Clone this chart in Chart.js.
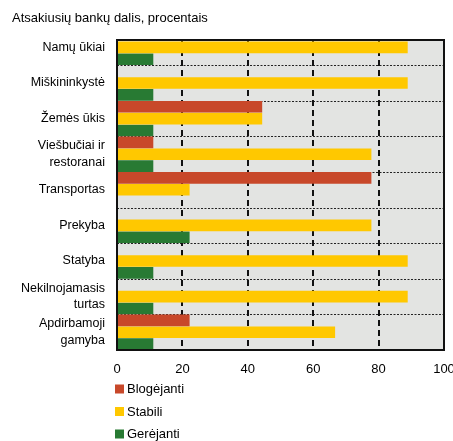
<!DOCTYPE html>
<html>
<head>
<meta charset="utf-8">
<script src="https://cdn.jsdelivr.net/npm/chart.js@4"></script>
<style>
  html, body { margin: 0; padding: 0; background: #fff; overflow: hidden; }
  #wrap { position: relative; width: 453px; height: 441px; overflow: hidden; }
  canvas { display: block; }
</style>
</head>
<body>
<div id="wrap">
  <canvas id="chart" width="480" height="441"></canvas>
</div>
<script>
// data (share of 9 responding banks, %)
const categories = [
  'Namų ūkiai',
  'Miškininkystė',
  'Žemės ūkis',
  ['Viešbučiai ir', 'restoranai'],
  'Transportas',
  'Prekyba',
  'Statyba',
  ['Nekilnojamasis', 'turtas'],
  ['Apdirbamoji', 'gamyba']
];
const blogejanti = [0, 0, 44.4, 11.1, 77.8, 0, 0, 0, 22.2];
const stabili = [88.9, 88.9, 44.4, 77.8, 22.2, 77.8, 88.9, 88.9, 66.7];
const gerejanti = [11.1, 11.1, 11.1, 11.1, 0, 22.2, 11.1, 11.1, 11.1];
const xTicks = [0, 20, 40, 60, 80, 100];
const seriesNames = ['Blogėjanti', 'Stabili', 'Gerėjanti'];
const colors = ['#C8482A', '#FFC800', '#287A33'];
const title = 'Atsakiusių bankų dalis, procentais';

const FONT = 'Liberation Sans, Arial, sans-serif';
const BOX_TOP = 40; // grey frame starts a bit below the first category band

// background, dashed grid and frame
const framePlugin = {
  id: 'frame',
  beforeDatasetsDraw(chart) {
    const { ctx, chartArea: a, scales } = chart;
    const x = scales.x, y = scales.y;
    ctx.save();
    ctx.fillStyle = '#E3E4E2';
    ctx.fillRect(a.left, BOX_TOP, a.right - a.left, a.bottom - BOX_TOP);

    // dotted lines between categories
    const step = (a.bottom - a.top) / categories.length;
    ctx.strokeStyle = '#222';
    ctx.lineWidth = 1;
    ctx.setLineDash([2, 1.5]);
    for (let i = 1; i < categories.length; i++) {
      const py = Math.round(y.getPixelForValue(i) - step / 2) + 0.5;
      ctx.beginPath();
      ctx.moveTo(a.left, py);
      ctx.lineTo(a.right, py);
      ctx.stroke();
    }

    // dashed vertical lines
    ctx.strokeStyle = '#111';
    ctx.lineWidth = 2;
    ctx.setLineDash([6, 4]);
    xTicks.slice(1, -1).forEach(v => {
      const px = Math.round(x.getPixelForValue(v));
      ctx.beginPath();
      ctx.moveTo(px, BOX_TOP);
      ctx.lineTo(px, a.bottom);
      ctx.stroke();
    });
    ctx.restore();
  },
  afterDatasetsDraw(chart) {
    const { ctx, chartArea: a } = chart;
    ctx.save();
    ctx.strokeStyle = '#111';
    ctx.lineWidth = 2;
    ctx.strokeRect(a.left, BOX_TOP, a.right - a.left, a.bottom - BOX_TOP);
    ctx.restore();
  },
  afterDraw(chart) {
    const { ctx } = chart;
    ctx.save();
    ctx.fillStyle = '#000';
    ctx.font = '13px ' + FONT;
    ctx.textBaseline = 'alphabetic';
    ctx.fillText(title, 12, 21.5);

    // legend stacked under the axis
    const legendY = [389, 411.5, 434];
    chart.data.datasets.forEach((ds, i) => {
      ctx.fillStyle = ds.backgroundColor;
      ctx.fillRect(115, legendY[i] - 4.5, 9, 9);
      ctx.fillStyle = '#000';
      ctx.textBaseline = 'middle';
      ctx.fillText(ds.label, 127, legendY[i] + 0.5);
    });
    ctx.restore();
  }
};

new Chart(document.getElementById('chart'), {
  type: 'bar',
  data: {
    labels: categories,
    datasets: [
      { label: seriesNames[0], data: blogejanti, backgroundColor: colors[0] },
      { label: seriesNames[1], data: stabili, backgroundColor: colors[1] },
      { label: seriesNames[2], data: gerejanti, backgroundColor: colors[2] }
    ]
  },
  options: {
    indexAxis: 'y',
    responsive: false,
    animation: false,
    devicePixelRatio: 1,
    layout: { padding: { top: 29.6, right: 36, bottom: 0, left: 0 } },
    datasets: { bar: { categoryPercentage: 1, barPercentage: 0.98 } },
    plugins: { legend: { display: false }, tooltip: { enabled: false } },
    scales: {
      x: {
        min: 0,
        max: 100,
        afterFit: s => { s.height = 91; },
        afterBuildTicks: s => { s.ticks = xTicks.map(v => ({ value: v })); },
        grid: { display: false, drawTicks: false },
        border: { display: false },
        ticks: { color: '#000', padding: 12, autoSkip: false, font: { family: FONT, size: 13 } }
      },
      y: {
        afterFit: s => { s.width = 117; },
        grid: { display: false, drawTicks: false },
        border: { display: false },
        ticks: { color: '#000', padding: 12, autoSkip: false, font: { family: FONT, size: 12.5, lineHeight: 1.33 } }
      }
    }
  },
  plugins: [framePlugin]
});
</script>
</body>
</html>
